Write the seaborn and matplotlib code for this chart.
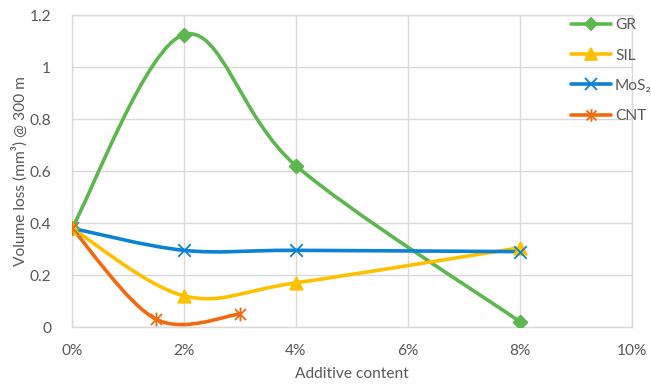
import matplotlib
matplotlib.use("Agg")
import matplotlib.pyplot as plt
from matplotlib.path import Path
from matplotlib.patches import PathPatch
from matplotlib.lines import Line2D
from matplotlib.ticker import FuncFormatter, MultipleLocator
import numpy as np
import pandas as pd
import seaborn as sns

# Wear data: additive content (%) vs volume loss (mm³) after 300 m
gr_x = [0, 2, 4, 8]
gr_y = [0.38, 1.125, 0.62, 0.02]
sil_x = [0, 2, 4, 8]
sil_y = [0.38, 0.12, 0.17, 0.305]
mos2_x = [0, 2, 4, 8]
mos2_y = [0.38, 0.295, 0.295, 0.29]
cnt_x = [0, 1.5, 3]
cnt_y = [0.38, 0.03, 0.05]

# Asterisk marker: an "x" crossed by a vertical stroke
star_marker = Path(
    [(-1, -1), (1, 1), (-1, 1), (1, -1), (0, -1.25), (0, 1.25)],
    [Path.MOVETO, Path.LINETO, Path.MOVETO, Path.LINETO, Path.MOVETO, Path.LINETO],
)

series_names = ["GR", "SIL", "MoS₂", "CNT"]
series_colors = ["#5DB74F", "#FFC000", "#0C82D4", "#F26A10"]
series_markers = ["D", "^", "x", star_marker]
series_msize = [7, 9, 9, 10]

sns.set_theme(style="white")
plt.rcParams["font.family"] = ["Lato", "DejaVu Sans"]
text_color = "#595959"
grid_color = "#D9D9D9"
fs = 11.2

frames = []
for name, xs, ys in zip(series_names, [gr_x, sil_x, mos2_x, cnt_x],
                        [gr_y, sil_y, mos2_y, cnt_y]):
    frames.append(pd.DataFrame({"content": xs, "loss": ys, "series": name}))
df = pd.concat(frames, ignore_index=True)

fig = plt.figure(figsize=(6.51, 3.87), dpi=100)
ax = fig.add_axes([0.1106, 0.155, 0.8604, 0.806])


def smooth_path(xs, ys):
    """Bezier path through the points (Catmull-Rom style control points)."""
    pts = np.column_stack([xs, ys]).astype(float)
    n = len(pts)
    verts = [pts[0]]
    codes = [Path.MOVETO]
    for i in range(n - 1):
        p0 = pts[i - 1] if i > 0 else pts[i]
        p1 = pts[i]
        p2 = pts[i + 1]
        p3 = pts[i + 2] if i + 2 < n else pts[i + 1]
        c1 = p1 + (p2 - p0) / 6.0
        c2 = p2 - (p3 - p1) / 6.0
        verts += [c1, c2, p2]
        codes += [Path.CURVE4] * 3
    return Path(verts, codes)


for name, color in zip(series_names, series_colors):
    sub = df[df["series"] == name]
    patch = PathPatch(smooth_path(sub["content"].values, sub["loss"].values),
                      facecolor="none", edgecolor=color, lw=2.6,
                      capstyle="round", joinstyle="round", zorder=3)
    ax.add_patch(patch)

for name, color, mk, ms in zip(series_names, series_colors, series_markers, series_msize):
    sub = df[df["series"] == name]
    sns.scatterplot(data=sub, x="content", y="loss", ax=ax, marker=mk,
                    s=ms ** 2, color=color, edgecolor=color, linewidth=1.3,
                    zorder=4, legend=False)

ax.set_xlim(0, 10)
ax.set_ylim(0, 1.2)
ax.xaxis.set_major_locator(MultipleLocator(2))
ax.yaxis.set_major_locator(MultipleLocator(0.2))
ax.xaxis.set_major_formatter(FuncFormatter(lambda v, p: f"{v:.0f}%"))
ax.yaxis.set_major_formatter(FuncFormatter(lambda v, p: f"{v:.1f}".rstrip("0").rstrip(".") if v else "0"))
ax.grid(True, color=grid_color, lw=1)
ax.set_axisbelow(True)
for sp in ax.spines.values():
    sp.set_color(grid_color)
    sp.set_linewidth(1)
ax.tick_params(axis="both", colors=text_color, labelsize=fs, length=0)
ax.tick_params(axis="y", pad=15)
ax.tick_params(axis="x", pad=12)
ax.set_xlabel("Additive content", color=text_color, fontsize=fs, labelpad=7)
ax.set_ylabel("Volume loss (mm³) @ 300 m", color=text_color, fontsize=fs, labelpad=1)

handles = [Line2D([0], [0], color=c, lw=2.6, marker=m, markersize=s * 0.9,
                  markeredgecolor=c, markeredgewidth=1.3)
           for c, m, s in zip(series_colors, series_markers, series_msize)]
leg = ax.legend(handles, series_names, loc="upper right", bbox_to_anchor=(1.06, 1.035),
                frameon=False, fontsize=fs, labelspacing=1.05, handlelength=2.6,
                handletextpad=0.25, labelcolor=text_color)

fig.savefig("out.png", dpi=100)
